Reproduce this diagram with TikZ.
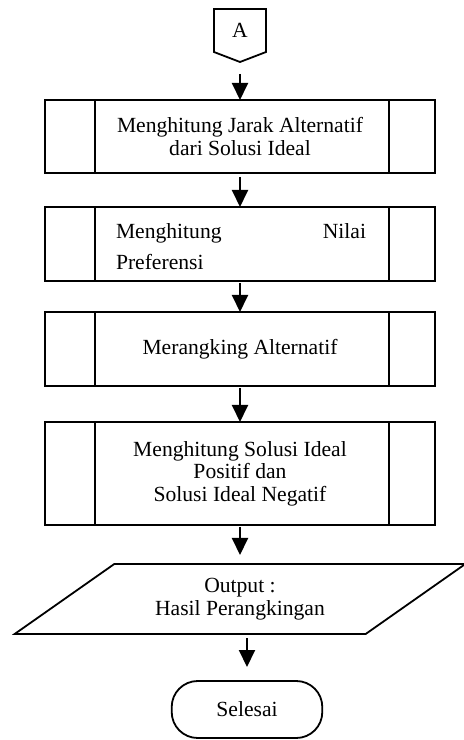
\documentclass[tikz,border=0pt]{standalone}
\usepackage{fontspec}
\setmainfont{Liberation Serif}
\usetikzlibrary{
    arrows.meta,
    positioning,
    shapes.geometric,
    shapes.symbols
}

\begin{document}
\begin{tikzpicture}[
  node distance = 18pt,
  >={Triangle[width=8pt, length=8.5pt]},
  line width = 0.9pt,
  every node/.style = {font=\fontsize{10.8}{11.2}\selectfont, outer sep=0pt},
  connector/.style = {shape=signal, signal to=south, signal pointer angle=138,
                      draw, inner sep=0pt, minimum width=26pt, minimum height=23pt},
  subproc/.style   = {rectangle, draw, align=center, minimum width=195pt,
                      path picture={
                        \draw ([xshift=25pt]path picture bounding box.north west)
                           -- ([xshift=25pt]path picture bounding box.south west)
                              ([xshift=-23pt]path picture bounding box.north east)
                           -- ([xshift=-23pt]path picture bounding box.south east);}},
  io/.style        = {trapezium, trapezium left angle=37, trapezium right angle=143,
                      trapezium stretches=true, draw, align=center,
                      minimum width=225.5pt, minimum height=35pt},
  terminal/.style  = {rectangle, rounded corners=13pt, draw,
                      minimum width=75.3pt, minimum height=28.5pt},
  flow/.style      = {->, line width=1pt}
]
\useasboundingbox (0,0) rectangle (232pt,-370pt);

% Nodes
\node[connector, anchor=north] (A) at (120pt,-4.5pt) {A};
\node[subproc, minimum height=36.5pt, below=19pt of A] (jarak) {Menghitung Jarak Alternatif\\dari Solusi Ideal};
\node[subproc, minimum height=37pt, below=17pt of jarak] (nilai) {};
\node[subproc, minimum height=37pt, below=15.5pt of nilai] (rank) {Merangking Alternatif};
\node[subproc, minimum height=51.5pt, below=18pt of rank] (solusi) {Menghitung Solusi Ideal\\Positif dan\\Solusi Ideal Negatif};
\node[io, below=19.5pt of solusi] (output) {Output :\\Hasil Perangkingan};
\node[terminal, below=23.5pt of output, xshift=3.5pt] (selesai) {Selesai};

% Justified text, cut at the bottom
\begin{scope}
  \clip (nilai.north west) rectangle (nilai.east |- 0,-134.5pt);
  \node[text width=125pt, align=left, inner sep=0pt, anchor=north west,
        font=\fontsize{10.8}{15.5}\selectfont] (nilaitext) at (58pt,-112pt)
        {Menghitung\hfill Nilai\\Preferensi};
\end{scope}

% Flow arrows
\draw[flow, shorten <=6pt] (A.south) -- (jarak.north);
\draw[flow, shorten <=2pt] (jarak.south) -- (nilai.north);
\draw[flow, shorten <=1pt] (nilai.south) -- (rank.north);
\draw[flow, shorten <=1pt] (rank.south) -- (solusi.north);
\draw[flow, shorten <=1pt, shorten >=4.5pt] (solusi.south) -- (output.north);
\draw[flow, shorten <=2pt, shorten >=7pt] (selesai.north |- output.south) -- (selesai.north);

\end{tikzpicture}
\end{document}
